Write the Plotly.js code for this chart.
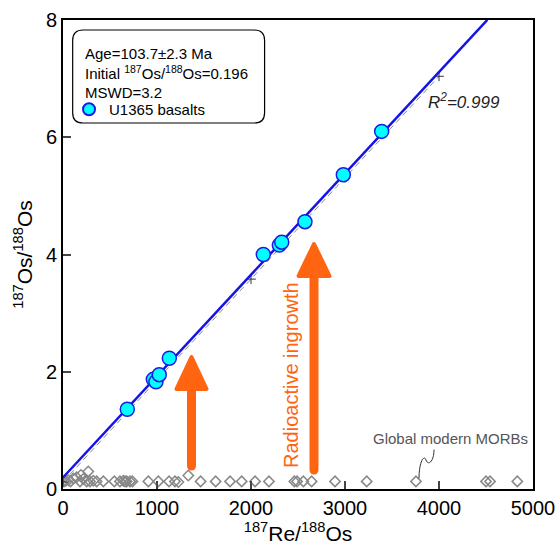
<!DOCTYPE html>
<html>
<head>
<meta charset="utf-8">
<script src="https://cdn.plot.ly/plotly-3.0.1.min.js"></script>
<style>html,body{margin:0;padding:0;background:#fff;}#chart{width:560px;height:551px;}</style>
</head>
<body>
<div id="chart"></div>
<script>
// U1365 basalts
var basaltRe = [684, 961, 989, 1024, 1131, 2131, 2301, 2327, 2574, 2982, 3390];
var basaltOs = [1.36, 1.87, 1.83, 1.95, 2.23, 4.00, 4.16, 4.21, 4.56, 5.36, 6.10];
// Isochron fit
var ageMa = 103.7;
var initialOs = 0.196;
var isoX = [0, 4514];
// reference line with ticks
var refX = [0, 1000, 2000, 3000, 4000];
var refY = [0.12, 1.86, 3.58, 5.31, 7.04];
// Global modern MORBs
var morbX = [10, 30, 57, 80, 110, 145, 181, 191, 216, 252, 269, 287, 323, 358, 429, 546, 606, 642, 660, 677, 713, 738, 908, 1014, 1128, 1191, 1227, 1333, 1464, 1624, 1777, 1901, 2043, 2191, 2461, 2490, 2557, 2645, 2894, 3231, 3755, 4500, 4543, 4833];
var morbY = [0.13, 0.14, 0.15, 0.13, 0.18, 0.2, 0.13, 0.24, 0.17, 0.13, 0.30, 0.13, 0.14, 0.13, 0.13, 0.13, 0.13, 0.14, 0.13, 0.13, 0.13, 0.13, 0.13, 0.13, 0.13, 0.13, 0.12, 0.23, 0.13, 0.13, 0.13, 0.13, 0.13, 0.13, 0.13, 0.13, 0.13, 0.13, 0.13, 0.13, 0.13, 0.13, 0.13, 0.13];
var xTicks = [0, 1000, 2000, 3000, 4000, 5000];
var yTicks = [0, 2, 4, 6, 8];

var lambda = 1.666e-11;
var slope = Math.exp(lambda * ageMa * 1e6) - 1;
var isoY = isoX.map(function (x) { return initialOs + slope * x; });

var orange = '#FF6410';
var font = 'Arial, "Liberation Sans", sans-serif';

var traces = [
  {x: morbX, y: morbY, mode: 'markers', type: 'scatter', showlegend: false,
   marker: {symbol: 'diamond-open', size: 8, color: '#888888', line: {width: 1.5, color: '#888888'}}},
  {x: refX, y: refY, mode: 'lines+markers', type: 'scatter', showlegend: false,
   line: {color: '#8a8a8a', width: 1, dash: '6px,4px'},
   marker: {symbol: 'cross-thin-open', size: 7, color: '#333333', line: {width: 1, color: '#333333'}}},
  {x: isoX, y: isoY, mode: 'lines', type: 'scatter', showlegend: false,
   line: {color: '#1414E6', width: 2.5}},
  {x: basaltRe, y: basaltOs, mode: 'markers', type: 'scatter', name: 'U1365 basalts',
   marker: {symbol: 'circle', size: 14, color: '#00FFFF', line: {width: 1.5, color: '#1A1AE6'}}}
];

function px2x(p) { return (p - 63) / 0.094; }
function px2y(p) { return (489 - p) / 58.625; }

// arrows
function arrowShapes(cx, yBot, yBase, yTip, halfW) {
  return [
    {type: 'line', xref: 'x', yref: 'y', x0: cx, x1: cx, y0: yBot, y1: yBase + 0.05,
     line: {color: orange, width: 9}},
    {type: 'path', xref: 'x', yref: 'y',
     path: 'M' + (cx - halfW) + ',' + yBase + ' L' + cx + ',' + yTip + ' L' + (cx + halfW) + ',' + yBase + ' Z',
     fillcolor: orange, line: {color: orange, width: 4}}
  ];
}
var a1x = px2x(191.5), a2x = px2x(314);
var shapes = [].concat(
  arrowShapes(a1x, px2y(466), px2y(389), px2y(357), 160),
  arrowShapes(a2x, px2y(470), px2y(276), px2y(244), 165)
);
// rounded legend box (paper coords)
var bx0 = 0.0206, bx1 = 0.4289, by0 = 0.7804, by1 = 0.9787, r = 0.022;
shapes.push({type: 'path', xref: 'paper', yref: 'paper',
  path: 'M' + (bx0 + r) + ',' + by1 + ' L' + (bx1 - r) + ',' + by1 + ' Q' + bx1 + ',' + by1 + ' ' + bx1 + ',' + (by1 - r) +
        ' L' + bx1 + ',' + (by0 + r) + ' Q' + bx1 + ',' + by0 + ' ' + (bx1 - r) + ',' + by0 +
        ' L' + (bx0 + r) + ',' + by0 + ' Q' + bx0 + ',' + by0 + ' ' + bx0 + ',' + (by0 + r) +
        ' L' + bx0 + ',' + (by1 - r) + ' Q' + bx0 + ',' + by1 + ' ' + (bx0 + r) + ',' + by1 + ' Z',
  line: {color: '#000', width: 1.2}, fillcolor: 'rgba(255,255,255,0)'});
// squiggle leader
shapes.push({type: 'path', xref: 'x', yref: 'y',
  path: 'M' + px2x(434) + ',' + px2y(450) + ' C' + px2x(434) + ',' + px2y(462) + ' ' + px2x(428) + ',' + px2y(466) + ' ' + px2x(426) + ',' + px2y(460) +
        ' C' + px2x(424) + ',' + px2y(454) + ' ' + px2x(419) + ',' + px2y(462) + ' ' + px2x(419) + ',' + px2y(478),
  line: {color: '#333', width: 1}});

var annotations = [
  {xref: 'paper', yref: 'paper', x: 0.0426, y: 0.9294, xanchor: 'left', yanchor: 'middle', showarrow: false,
   text: 'Age=103.7±2.3 Ma', font: {family: font, size: 15, color: '#000'}},
  {xref: 'paper', yref: 'paper', x: 0.0426, y: 0.8883, xanchor: 'left', yanchor: 'middle', showarrow: false,
   text: 'Initial <sup>187</sup>Os/<sup>188</sup>Os=0.196', font: {family: font, size: 15, color: '#000'}},
  {xref: 'paper', yref: 'paper', x: 0.0426, y: 0.8463, xanchor: 'left', yanchor: 'middle', showarrow: false,
   text: 'MSWD=3.2', font: {family: font, size: 15, color: '#000'}},
  {xref: 'x', yref: 'y', x: px2x(464), y: px2y(101), showarrow: false,
   text: '<i>R<sup>2</sup>=0.999</i>', font: {family: font, size: 17, color: '#222'}},
  {xref: 'x', yref: 'y', x: px2x(450), y: px2y(438), showarrow: false,
   text: 'Global modern MORBs', font: {family: font, size: 15, color: '#555'}},
  {xref: 'x', yref: 'y', x: px2x(291), y: px2y(375), showarrow: false, textangle: -90,
   text: 'Radioactive ingrowth', font: {family: font, size: 20, color: orange}}
];

var layout = {
  width: 560, height: 551,
  margin: {l: 63, r: 27, t: 20, b: 62},
  paper_bgcolor: '#fff', plot_bgcolor: '#fff',
  font: {family: font, color: '#000'},
  showlegend: true,
  legend: {x: 0.0128, y: 0.8093, xanchor: 'left', yanchor: 'middle', bgcolor: 'rgba(0,0,0,0)',
           font: {family: font, size: 15, color: '#000'}, itemsizing: 'constant'},
  xaxis: {range: [0, 5000], tickvals: xTicks, ticktext: xTicks.map(String), ticks: 'inside', ticklen: 8, tickwidth: 2,
          showline: true, linecolor: '#000', linewidth: 2, mirror: true, showgrid: false, zeroline: false,
          tickfont: {family: font, size: 20, color: '#000'},
          title: {text: '<sup>187</sup>Re/<sup>188</sup>Os', font: {family: font, size: 21, color: '#000'}, standoff: 0}},
  yaxis: {range: [0, 8], tickvals: yTicks, ticktext: yTicks.map(String), ticks: 'inside', ticklen: 8, tickwidth: 2,
          showline: true, linecolor: '#000', linewidth: 2, mirror: true, showgrid: false, zeroline: false,
          tickfont: {family: font, size: 20, color: '#000'},
          title: {text: '<sup>187</sup>Os/<sup>188</sup>Os', font: {family: font, size: 21, color: '#000'}, standoff: 8}},
  shapes: shapes,
  annotations: annotations
};

Plotly.newPlot('chart', traces, layout, {staticPlot: true}).then(function () {
  document.querySelectorAll('.shapelayer path').forEach(function (p) {
    p.style.strokeLinejoin = 'round';
    p.style.strokeLinecap = 'round';
  });
});
</script>
</body>
</html>
